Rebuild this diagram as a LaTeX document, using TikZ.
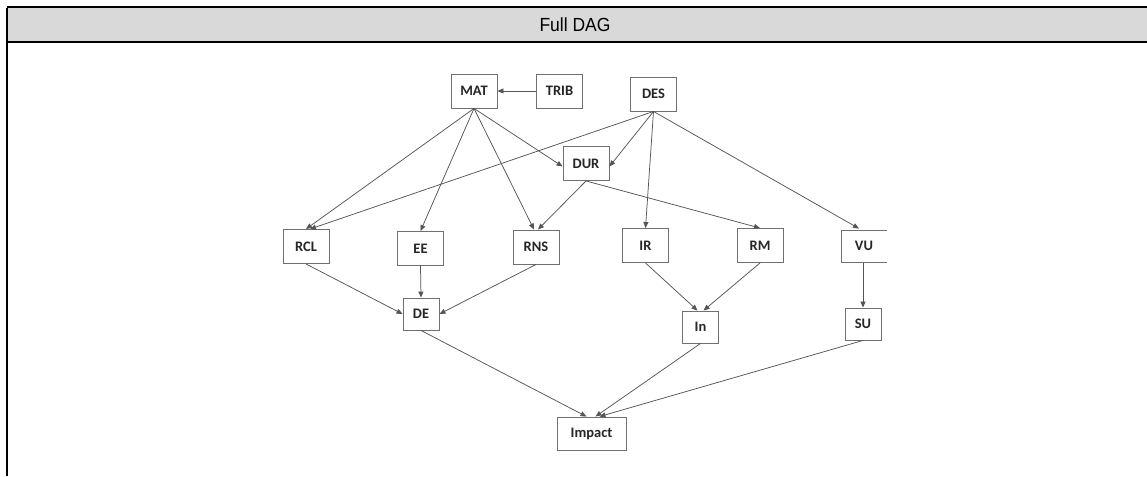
\documentclass[tikz,border=0pt]{standalone}
\usepackage{fontspec}
\setmainfont{Carlito}
\newfontfamily\headfont{Liberation Sans}
\usetikzlibrary{arrows.meta}
\definecolor{headgray}{HTML}{D9D9D9}
\definecolor{edgegray}{HTML}{555555}
\definecolor{boxgray}{HTML}{707070}
\begin{document}
\begin{tikzpicture}[x=1pt,y=-1pt,
  var/.style={draw=boxgray, line width=0.9pt, fill=white, inner sep=0pt,
    minimum width=46pt, minimum height=34pt,
    font=\fontsize{14.5}{16}\selectfont\bfseries, text=black!85},
  smallvar/.style={var, minimum width=36pt, minimum height=32pt},
  openvar/.style={var, draw=none},
  edge/.style={draw=edgegray, line width=0.75pt,
    -{Triangle[length=6pt,width=5pt]}},
  frame/.style={line width=2pt, black}]
\useasboundingbox (0,0) rectangle (1147,476);
% header band and frame
\fill[headgray] (8,8) rectangle (1147,41);
\draw[frame] (7,7) -- (1147,7);
\draw[frame] (7,42) -- (1147,42);
\draw[frame] (7,8) -- (7,476);
\node[font=\headfont\fontsize{19}{21}\selectfont, xscale=0.92] (title) at (575,24.5) {Full DAG};

% variables
\node[var] (MAT) at (474,91) {MAT};
\node[var] (TRIB) at (559.5,91) {TRIB};
\node[var] (DES) at (653.5,94) {DES};
\node[var] (DUR) at (586,163.5) {DUR};
\node[var] (RCL) at (306,246.5) {RCL};
\node[var] (EE) at (420.5,248.5) {EE};
\node[var] (RNS) at (536,247) {RNS};
\node[var] (IR) at (645.5,245.5) {IR};
\node[var] (RM) at (760,245.5) {RM};
\node[openvar] (VU) at (864,246) {VU};
\draw[boxgray, line width=0.9pt] (887,230) -- (841,230) -- (841,262) -- (887,262);
\node[smallvar] (SU) at (863,324) {SU};
\node[smallvar] (In) at (700.5,327) {In};
\node[smallvar] (DE) at (421,314) {DE};
\node[var, minimum width=69pt, minimum height=33pt] (Impact) at (591.5,433.5) {Impact};

% causal links
\draw[edge] (TRIB) -- (MAT);
\draw[edge] (MAT.south) -- (RCL.north);
\draw[edge] (MAT.south) -- (EE.north);
\draw[edge] (MAT.south) -- ([xshift=-2pt]RNS.north);
\draw[edge] (MAT.south) -- ([yshift=-3pt]DUR.west);
\draw[edge] (DES.south) -- ([xshift=4pt]RCL.north);
\draw[edge] (DES.south) -- ([yshift=-3pt]DUR.east);
\draw[edge] (DES.south) -- (IR.north);
\draw[edge] (DES.south) -- ([xshift=-5pt]VU.north);
\draw[edge] (DUR.south) -- ([xshift=2pt]RNS.north);
\draw[edge] (DUR.south) -- (RM.north);
\draw[edge] (RCL.south) -- (DE.west);
\draw[edge] (EE.south) -- (DE.north);
\draw[edge] (RNS.south) -- (DE.east);
\draw[edge] (IR.south) -- ([xshift=-3pt]In.north);
\draw[edge] (RM.south) -- ([xshift=3pt]In.north);
\draw[edge] (SU.north |- VU.south) -- (SU.north);
\draw[edge] (DE.south) -- ([xshift=-5pt]Impact.north);
\draw[edge] (In.south) -- ([xshift=4pt]Impact.north);
\draw[edge] (SU.south) -- ([xshift=8pt]Impact.north);
\end{tikzpicture}
\end{document}
